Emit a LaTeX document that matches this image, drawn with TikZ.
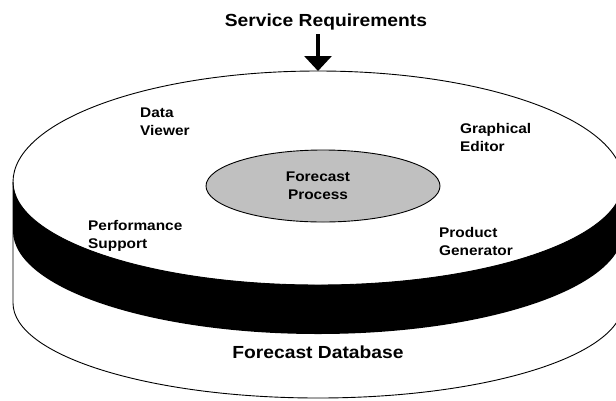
\documentclass[tikz,border=0pt]{standalone}
\usepackage{fontspec}
\setmainfont{Liberation Sans}[FakeStretch=1.1]
\usetikzlibrary{arrows.meta,shapes.geometric}
\definecolor{procgray}{RGB}{192,192,192}
\tikzset{
  lab/.style={font=\bfseries\fontsize{14}{18}\selectfont, align=left, inner sep=0pt, anchor=north west},
  title/.style={font=\bfseries\fontsize{17.5}{21}\selectfont, inner sep=0pt},
  outline/.style={draw=black, line width=0.9pt},
}
\begin{document}
\begin{tikzpicture}[x=1pt,y=-1pt]
\useasboundingbox (0,0) rectangle (616,400);
\begin{scope}
\clip (0,0) rectangle (616,400);
\fill[white] (0,0) rectangle (616,400);
% black band
\fill[black] (13,182) arc[start angle=180, end angle=0, x radius=305, y radius=103]
  -- (623,231) arc[start angle=0, end angle=180, x radius=305, y radius=103] -- cycle;
% side line and bottom arc
\draw[outline] (13,182) -- (13,303) arc[start angle=180, end angle=0, x radius=305, y radius=95] -- (623,182);
% top face: upper arc
\draw[outline] (13,182) arc[start angle=180, end angle=0, x radius=305, y radius=-111];
% top face: lower arc
\draw[outline] (13,182) arc[start angle=180, end angle=0, x radius=305, y radius=103];
\end{scope}
% inner ellipse
\node[draw=black, line width=0.9pt, fill=procgray, shape=ellipse, minimum width=234pt, minimum height=72pt, inner sep=0pt] (proc) at (323,186) {};
\node[font=\bfseries\fontsize{14}{18}\selectfont, align=center, inner sep=0pt] (proct) at (318,186) {Forecast\\Process};
% labels
\node[lab] (dv) at (140,108) {Data\\Viewer};
\node[lab] (ge) at (460,123) {Graphical\\Editor};
\node[lab] (ps) at (88,220) {Performance\\Support};
\node[lab] (pg) at (439,227) {Product\\Generator};
% titles
\node[title, anchor=base] (sr) at (326,26) {Service Requirements};
\node[title, anchor=base] (fd) at (318,358) {Forecast Database};
% arrow
\coordinate (arrS) at (318,34);
\coordinate (arrE) at (318,71);
\draw[line width=3.3pt, -{Triangle[width=27pt,length=15pt]}] (arrS) -- (arrE);
\end{tikzpicture}
\end{document}
